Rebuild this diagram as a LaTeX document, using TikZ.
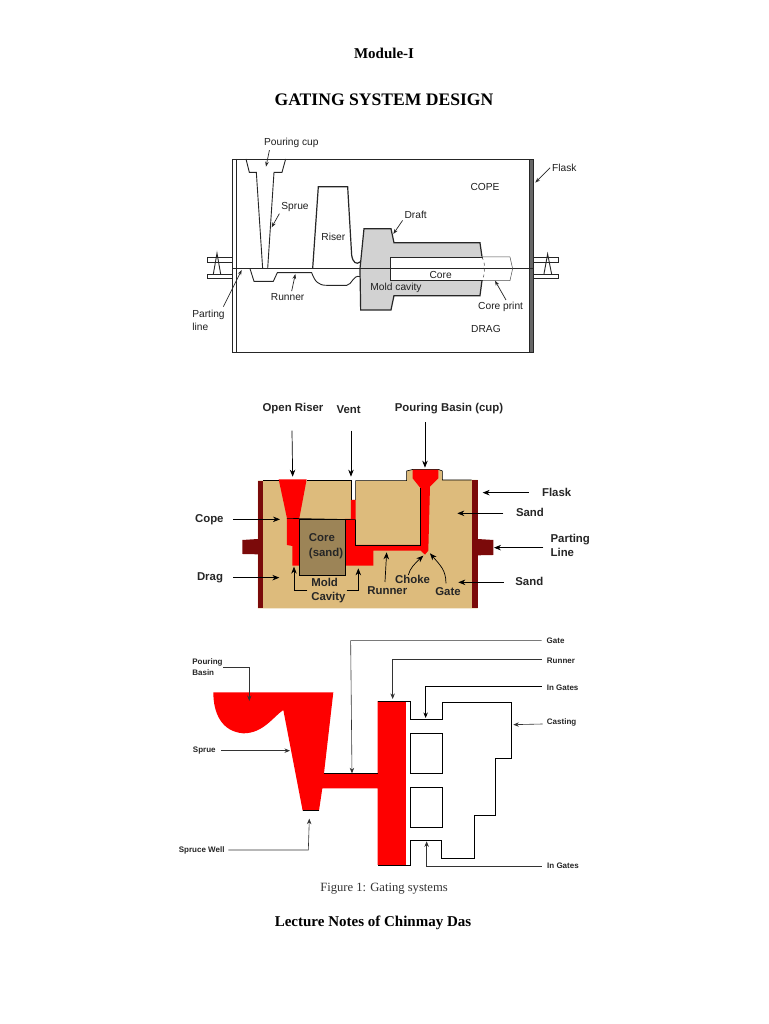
\documentclass[tikz,border=0pt]{standalone}
\usepackage{fontspec}
\setmainfont{Liberation Serif}
\setsansfont{Liberation Sans}
\usetikzlibrary{arrows.meta}
\definecolor{tan1}{HTML}{DDBB7C}
\definecolor{core1}{HTML}{9C8457}
\definecolor{maroon1}{HTML}{7B0A0A}
\definecolor{red1}{HTML}{FE0000}
\definecolor{cav}{HTML}{D2D2D2}
\tikzset{
 pg/.style={font=\rmfamily\bfseries},
 lab/.style={font=\sffamily\fontsize{10.2}{13}\selectfont,text=black!88,inner sep=0pt,outer sep=2pt,align=left},
 labb/.style={font=\sffamily\bfseries\fontsize{11.4}{14.5}\selectfont,text=black!85,inner sep=0pt,outer sep=3pt,align=left},
 labc/.style={font=\sffamily\bfseries\fontsize{8}{10.5}\selectfont,text=black!85,inner sep=0pt,outer sep=3pt,align=left},
 arr/.style={-{Stealth[length=5pt,width=3.6pt]},black!85,line width=.7pt},
 arrb/.style={-{Stealth[length=7pt,width=5.5pt]},black,line width=.7pt},
 arrc/.style={-{Stealth[length=5.5pt,width=4.4pt]},black!80,line width=.6pt},
 ol/.style={black!85,line width=.9pt,line join=miter},
 olt/.style={black!85,line width=1.2pt,line join=miter},
 zoomA/.style={shift={(190,130)},x=.3333pt,y=-.3333pt},
 zoomB/.style={shift={(180,390)},x=.3333pt,y=-.3333pt},
 zoomC/.style={shift={(180,630)},x=.3333pt,y=-.3333pt},
}
\begin{document}
\begin{tikzpicture}[x=1pt,y=-1pt]
\useasboundingbox (0,0) rectangle (768,1024);
\fill[white] (0,0) rectangle (768,1024);
\node[pg,font=\rmfamily\bfseries\fontsize{15}{18}\selectfont] (mod) at (384,53) {Module-I};
\node[pg,font=\rmfamily\bfseries\fontsize{17.6}{20}\selectfont] (title) at (384,100) {GATING SYSTEM DESIGN};
\node[font=\rmfamily\fontsize{12.6}{15}\selectfont,text=black!80] (fig) at (384,889) {Figure 1: Gating systems};
\node[pg,font=\rmfamily\bfseries\fontsize{15}{18}\selectfont] (lec) at (373,923) {Lecture Notes of Chinmay Das};

%%% Diagram 1
\begin{scope}[zoomA]
 \fill[cav] (510,416) -- (522,296) -- (603,296) -- (612,338) -- (870,338) -- (878,380) -- (880,416) -- (875,452) -- (870,497) -- (612,497) -- (603,540) -- (512,540) -- cycle;
 \fill[white] (600,381) rectangle (878,452);
 \draw[ol] (127,87) rectangle (1030,668);
 \draw[ol] (138,87) -- (138,668);
 \draw[ol,fill=black!60] (1018,87) rectangle (1030,668);
 \draw[ol] (127,416) -- (1030,416);
 \draw[ol] (168,87) -- (178,127) -- (199,127) -- (218,416);
 \draw[ol] (233,416) -- (252,127) -- (276,127) -- (287,87);
 \draw[olt] (368,416) -- (385,170) -- (473,170) -- (485,375) .. controls (488,398) and (500,405) .. (510,396);
 \draw[olt] (510,416) -- (522,296) -- (603,296) -- (612,338) -- (870,338) -- (876,380);
 \draw[olt] (876,452) -- (870,497) -- (612,497) -- (603,540) -- (512,540) -- (510,416);
 \draw[ol] (180,416) -- (192,454) -- (250,454) -- (262,428) -- (365,428) .. controls (375,455) and (385,466) .. (410,466) -- (470,466) .. controls (485,466) and (490,433) .. (510,440);
 \draw[ol] (878,381) -- (600,381) -- (600,452) -- (878,452);
 \draw[black!70,line width=.5pt] (878,381) -- (960,381) -- (968,416) -- (960,452) -- (878,452);
 \draw[black!70,line width=.5pt,dashed] (876,381) .. controls (888,405) and (886,430) .. (876,452);
 \foreach \xa/\xb in {52/127,1030/1105}{
  \draw[ol] (\xa,383) rectangle (\xb,397);
  \draw[ol] (\xa,432) rectangle (\xb,446);
 }
 \draw[ol] (70,432) -- (81,370) -- (92,432);
 \draw[ol] (1062,432) -- (1073,372) -- (1085,432);

 \node[lab] (a1) at (304,40) {Pouring cup};
 \node[lab] (a2) at (1123,113) {Flask};
 \node[lab] (a3) at (885,172) {COPE};
 \node[lab] (a4) at (315,231) {Sprue};
 \node[lab] (a5) at (430,321) {Riser};
 \node[lab] (a6) at (677,254) {Draft};
 \node[lab] (a7) at (752,434) {Core};
 \node[lab] (a8) at (618,473) {Mold cavity};
 \node[lab] (a9) at (293,500) {Runner};
 \node[lab] (a10) at (932,530) {Core print};
 \node[lab,anchor=north west,outer sep=0pt] (a11) at (7,540) {Parting\\line};
 \node[lab] (a12) at (888,596) {DRAG};
 \coordinate (e1) at (228,110);
 \coordinate (e2) at (1036,158);
 \coordinate (e4) at (245,292);
 \coordinate (e6) at (610,312);
 \coordinate (e9) at (316,432);
 \coordinate (e10) at (915,452);
 \coordinate (e11) at (155,420);
 \coordinate (s11) at (100,530);
 \draw[arr] (a1.south west) ++(22,0) -- (e1);
 \draw[arr] (a2.west) -- (e2);
 \draw[arr] (a4.south west) -- (e4);
 \draw[arr] (a6.south west) -- (e6);
 \draw[arr] (a9.north) ++(12,0) -- (e9);
 \draw[arr] (a10.north) ++(16,0) -- (e10);
 \draw[arr] (s11) -- (e11);
\end{scope}

%%% Diagram 2
\begin{scope}[zoomB]
 \fill[tan1] (234,272) -- (513,272) -- (513,330) -- (527,330) -- (527,272) -- (680,272) -- (680,243) -- (700,238) -- (775,238) -- (787,243) -- (787,270) -- (893,270) -- (893,655) -- (234,655) -- cycle;
 \fill[maroon1] (234,272) rectangle (250,655);
 \fill[maroon1] (875,270) rectangle (893,655);
 \fill[maroon1] (187,450) -- (234,447) -- (234,493) -- (187,492) -- cycle;
 \fill[maroon1] (893,447) -- (940,450) -- (940,495) -- (893,496) -- cycle;
 \fill[red1] (296,268) -- (380,268) -- (358,385) -- (358,527) -- (337,527) -- (337,468) -- (321,465) -- (321,385) -- cycle;
 \fill[red1] (495,387) -- (513,387) -- (513,330) -- (527,330) -- (527,465) -- (722,465) -- (722,295) -- (698,265) -- (698,238) -- (775,238) -- (775,265) -- (750,290) -- (745,482) -- (735,494) -- (722,482) -- (580,482) -- (580,527) -- (495,527) -- cycle;
 \draw[core1!60!black,line width=.5pt,fill=core1] (358,387) rectangle (495,556);
 \draw[black,line width=.6pt] (250,272) -- (296,272);
 \draw[black,line width=.6pt] (380,272) -- (513,272) -- (513,330);
 \draw[black,line width=.6pt] (527,330) -- (527,272) -- (680,272) -- (680,243) -- (700,238) -- (775,238) -- (787,243) -- (787,270) -- (875,270);
 \draw[black,line width=.6pt] (321,385) -- (527,389);
 \draw[black,line width=.6pt] (527,389) -- (527,465) -- (722,465) -- (722,295);
 \draw[black,line width=.6pt] (358,387) rectangle (495,556);

 \node[labb] (b1) at (339,56) {Open Riser};
 \node[labb] (b2) at (506,60) {Vent};
 \node[labb] (b3) at (807,57) {Pouring Basin (cup)};
 \node[labb] (b4) at (1130,306) {Flask};
 \node[labb] (b5) at (1050,366) {Sand};
 \node[labb,anchor=west] (b6) at (1103,467) {Parting\\Line};
 \node[labb] (b7) at (1048,575) {Sand};
 \node[labb] (b8) at (88,388) {Cope};
 \node[labb] (b9) at (90,563) {Drag};
 \node[labb,anchor=west] (b10) at (378,469) {Core\\(sand)};
 \node[labb,anchor=west] (b11) at (385,602) {Mold\\Cavity};
 \node[labb] (b12) at (622,601) {Runner};
 \node[labb] (b13) at (698,568) {Choke};
 \node[labb] (b14) at (804,605) {Gate};
 \coordinate (f1) at (338,260);
 \coordinate (f2) at (513,260);
 \coordinate (f3) at (735,233);
 \coordinate (f4) at (908,308);
 \coordinate (f5) at (832,370);
 \coordinate (f6) at (942,473);
 \coordinate (f7) at (835,577);
 \coordinate (f8) at (300,388);
 \coordinate (f9) at (298,563);
 \coordinate (f10) at (342,530);
 \coordinate (f11) at (535,535);
 \coordinate (f12) at (620,487);
 \coordinate (f13) at (730,497);
 \coordinate (f14) at (750,490);
 \coordinate (g1) at (336,122);
 \coordinate (g2) at (513,122);
 \coordinate (g3) at (735,97);
 \coordinate (g4) at (1047,308);
 \coordinate (g5) at (970,370);
 \coordinate (g6) at (1090,473);
 \coordinate (g7) at (972,577);
 \coordinate (g8) at (160,388);
 \coordinate (g9) at (160,563);
 \draw[arrb] (g1) -- (f1);
 \draw[arrb] (g2) -- (f2);
 \draw[arrb] (g3) -- (f3);
 \draw[arrb] (g4) -- (f4);
 \draw[arrb] (g5) -- (f5);
 \draw[arrb] (g6) -- (f6);
 \draw[arrb] (g7) -- (f7);
 \draw[arrb] (g8) -- (f8);
 \draw[arrb] (g9) -- (f9);
 \draw[arrb] (382,600) -- (342,600) -- (f10);
 \draw[arrb] (500,600) -- (535,600) -- (f11);
 \draw[arrb] (615,576) -- (f12);
 \draw[arrb] (685,555) .. controls (690,535) and (705,520) .. (f13);
 \draw[arrb] (798,580) .. controls (798,540) and (780,525) .. (f14);
\end{scope}

%%% Diagram 3
\begin{scope}[zoomC]
 \fill[red1] (100,187) -- (460,187) -- (432,430) -- (593,430) -- (593,213) -- (678,213) -- (678,705) -- (593,705) -- (593,475) -- (427,475) -- (417,542) -- (368,542) -- (310,240) .. controls (280,260) and (250,310) .. (190,310) .. controls (125,305) and (100,250) .. (100,187) -- cycle;
 \draw[black,line width=.7pt] (593,213) -- (692,213) -- (692,268) -- (787,268) -- (787,217) -- (994,217) -- (994,385) -- (946,385) -- (946,557) -- (884,557) -- (884,686) -- (784,686) -- (784,632) -- (692,632) -- (692,705) -- (593,705);
 \draw[black,line width=.7pt] (692,310) rectangle (787,430);
 \draw[black,line width=.7pt] (692,473) rectangle (787,593);
 \draw[black,line width=.7pt] (432,430) -- (593,430);
 \draw[black,line width=.5pt] (368,542) -- (417,542);

 \node[labc] (c1) at (1127,31) {Gate};
 \node[labc] (c2) at (1143,92) {Runner};
 \node[labc] (c3) at (1148,172) {In Gates};
 \node[labc] (c4) at (1145,276) {Casting};
 \node[labc] (c5) at (1149,708) {In Gates};
 \node[labc,anchor=west] (c6) at (28,112) {Pouring\\Basin};
 \node[labc] (c7) at (73,362) {Sprue};
 \node[labc] (c8) at (65,662) {Spruce Well};
 \coordinate (h1) at (516,430);
 \coordinate (h2) at (638,207);
 \coordinate (h3) at (737,264);
 \coordinate (h4) at (1000,284);
 \coordinate (h5) at (740,634);
 \coordinate (h6) at (208,213);
 \coordinate (h7) at (330,362);
 \coordinate (h8) at (388,566);
 \draw[arrc] (1085,32) -- (512,32) -- (h1);
 \draw[arrc] (1085,87) -- (638,87) -- (h2);
 \draw[arrc,black] (1085,168) -- (737,168) -- (h3);
 \draw[arrc] (1088,282) -- (h4);
 \draw[arrc] (1085,710) -- (740,710) -- (h5);
 \draw[arrc] (130,113) -- (208,113) -- (h6);
 \draw[arrc] (c7.east) ++(8,0) -- (h7);
 \draw[arrc] (145,660) -- (385,660) -- (h8);
\end{scope}
\end{tikzpicture}
\end{document}
